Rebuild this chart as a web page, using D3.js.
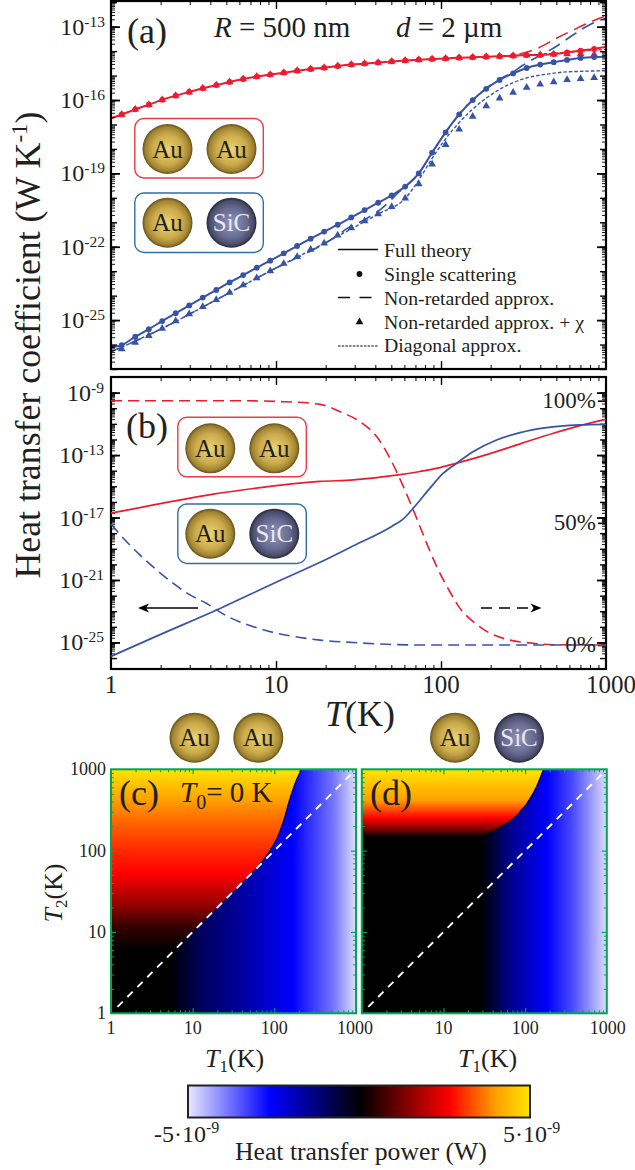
<!DOCTYPE html>
<html>
<head>
<meta charset="utf-8">
<script src="https://cdn.jsdelivr.net/npm/d3@7"></script>
<style>
html, body { margin: 0; padding: 0; background: #fff; }
svg { display: block; }
text { font-family: "Liberation Serif", serif; fill: #231f20; }
</style>
</head>
<body>
<div id="chart"></div>
<script>
// panel (a), all values are log10 of T or of the coefficient
var markerExp = [.065,.147,.229,.310,.392,.474,.556,.638,.719,.801,.883,.965,1.047,1.128,1.210,1.292,1.374,1.456,1.537,1.619,1.701,1.783,1.865,1.946,2.028,2.110,2.192,2.274,2.355,2.437,2.519,2.601,2.683,2.764,2.846,2.928];
var singleRed = [-16.59,-16.38,-16.19,-15.99,-15.82,-15.67,-15.52,-15.39,-15.26,-15.14,-15.04,-14.96,-14.88,-14.80,-14.73,-14.68,-14.61,-14.55,-14.51,-14.47,-14.42,-14.38,-14.35,-14.32,-14.30,-14.27,-14.25,-14.23,-14.21,-14.19,-14.16,-14.16,-14.12,-14.05,-13.98,-13.91];
var singleBlue = [-26.02,-25.68,-25.37,-25.04,-24.72,-24.40,-24.08,-23.77,-23.46,-23.16,-22.86,-22.57,-22.27,-21.97,-21.67,-21.38,-21.10,-20.80,-20.50,-20.20,-19.90,-19.54,-19.00,-18.15,-17.32,-16.59,-16.00,-15.54,-15.18,-14.91,-14.69,-14.55,-14.45,-14.36,-14.28,-14.24];
var triangleBlue = [-26.18,-25.92,-25.64,-25.34,-25.04,-24.75,-24.45,-24.17,-23.87,-23.57,-23.28,-22.99,-22.69,-22.41,-22.11,-21.86,-21.53,-21.23,-20.95,-20.66,-20.36,-20.02,-19.43,-18.63,-17.83,-17.20,-16.67,-16.24,-15.93,-15.69,-15.49,-15.36,-15.26,-15.17,-15.13,-15.09];
var triangleRed = [-16.59,-16.38,-16.19,-15.99,-15.82,-15.67,-15.52,-15.39,-15.26,-15.14,-15.04,-14.96,-14.88,-14.80,-14.73,-14.68,-14.61,-14.55,-14.51,-14.47,-14.42,-14.38,-14.35,-14.32,-14.30,-14.27,-14.25,-14.23,-14.21,-14.19,-14.17,-14.15,-14.13,-14.12,-14.12,-14.14];
var fullEndsRed = [-16.75, -13.82];
var fullEndsBlue = [-26.11, -14.23];
var nonRetRedT = [2.355,2.475,2.59,2.70,2.806,2.907,3];
var nonRetRed = [-14.21,-14.12,-13.87,-13.47,-13.12,-12.80,-12.56];
var nonRetBlueT = [0,.310,.638,.965,1.374,1.432,1.539,1.634,1.747,1.865,1.946,2.028,2.110,2.192,2.274,2.355,2.437,2.489,2.70,2.80,2.907,3];
var nonRetBlue = [-26.30,-25.34,-24.17,-22.99,-21.53,-21.25,-20.88,-20.47,-19.75,-19.00,-18.15,-17.32,-16.59,-16.00,-15.52,-15.15,-14.85,-14.61,-13.80,-13.34,-12.90,-12.66];
var diagRedT = [2.355,2.519,2.683,2.764,2.846,3];
var diagRed = [-14.21,-14.16,-14.09,-14.05,-14.00,-13.93];
var diagBlueT = [0,.310,.638,.965,1.292,1.619,1.783,1.859,1.94,2.022,2.103,2.186,2.267,2.348,2.428,2.511,2.594,2.675,2.756,2.836,2.994];
var diagBlue = [-26.30,-25.34,-24.17,-22.99,-21.86,-20.66,-20.02,-19.34,-18.45,-17.64,-16.98,-16.41,-15.96,-15.59,-15.32,-15.11,-14.99,-14.91,-14.85,-14.83,-14.80];

// panel (b)
var bRedT = [0,.176,.378,.62,.863,1.267,1.469,1.741,1.873,1.994,2.095,2.277,2.479,2.681,2.842,3];
var bRed = [-16.72,-16.36,-15.95,-15.50,-15.14,-14.69,-14.59,-14.27,-14.05,-13.80,-13.52,-12.97,-12.28,-11.60,-11.11,-10.71];
var bBlueT = [0,.297,.661,1.004,1.267,1.469,1.701,1.772,1.832,1.933,2.014,2.095,2.196,2.337,2.479,2.64,2.842,3];
var bBlue = [-25.89,-24.50,-22.82,-21.13,-19.87,-18.81,-17.57,-17.08,-16.40,-15.12,-14.16,-13.52,-12.77,-12.03,-11.56,-11.24,-11.07,-11.03];
var pctRedT = [0,.741,1.045,1.267,1.388,1.509,1.61,1.691,1.772,1.832,1.893,1.974,2.054,2.115,2.196,2.297,2.418,2.56,2.68,3];
var pctRed = [100,100,99.6,98.5,95.5,91.4,85.3,76.4,64.8,55.3,45,32.1,21.8,15,9.5,4.8,2,.7,.1,0];
var pctBlueT = [0,.014,.075,.176,.277,.378,.479,.58,.701,.863,1.004,1.145,1.267,1.469,1.671,1.873,3];
var pctBlue = [49.5,48.4,43.7,36.8,30.7,25.2,20.5,17,11.9,7.5,4.8,3.1,2,1,.3,0,0];

// panels (c) and (d): colour position per temperature, and where the sign flips
var cT1Exp = [0,.75,.85,1.1,1.5,2.23,2.72,3];
var cT1Tone = [.505,.505,.47,.41,.356,.24,.12,.01];
var cT2Exp = [0,.76,1.07,1.31,1.72,2,2.34,2.62,3];
var cT2Tone = [.505,.505,.56,.65,.765,.80,.85,.9,1];
var cEdgeT1 = [0,1.7,1.8,1.906,2.03,2.11,2.19,2.27,2.33,3];
var cEdgeT2 = [0,1.7,1.81,1.947,2.15,2.36,2.64,2.87,3,4.5];
var dT1Exp = [0,1.45,1.6,1.78,2.27,2.59,3];
var dT1Tone = [.505,.505,.45,.37,.24,.16,.01];
var dT2Exp = [0,2.17,2.25,2.4,2.62,3];
var dT2Tone = [.505,.505,.62,.765,.9,1];
var dEdgeT1 = [0,1.4,1.53,1.69,1.86,2.02,2.14,2.22,3];
var dEdgeT2 = [2.17,2.17,2.2,2.29,2.4,2.58,2.79,2.99,4.5];
var colorStops = [0,.24,.505,.765,.9,1];
var colorValues = ["#e8e8ff","#0000ff","#000000","#ff0000","#ffa000","#ffe600"];

var legendLabels = ["Full theory","Single scattering","Non-retarded approx.","Non-retarded approx. + χ","Diagonal approx."];

var RED = "#ec1c2e", BLUE = "#3653a8", GREEN = "#00a651";
var pow10 = function(e){ return Math.pow(10, e); };

var svg = d3.select("#chart").append("svg")
	.attr("width", 635)
	.attr("height", 1170);
var defs = svg.append("defs");

function ballGradient(id, stops){
	var g = defs.append("radialGradient").attr("id", id)
		.attr("cx", "50%").attr("cy", "50%").attr("r", "50%")
		.attr("fx", "50%").attr("fy", "52%");
	stops.forEach(function(s){
		g.append("stop").attr("offset", s[0]).attr("stop-color", s[1]);
	});
}
ballGradient("gold", [[0,"#ecd474"],[.6,"#cbab4b"],[.88,"#a08332"],[1,"#64511b"]]);
ballGradient("sic", [[0,"#9094b4"],[.6,"#686c92"],[.88,"#4a4c6a"],[1,"#28283c"]]);

function ball(cx, cy, sic){
	svg.append("circle").attr("cx", cx).attr("cy", cy).attr("r", 25)
		.attr("fill", sic ? "url(#sic)" : "url(#gold)");
	svg.append("text").attr("x", cx).attr("y", cy + 8.5).attr("text-anchor", "middle")
		.style("font-size", "25px")
		.style("fill", sic ? "#e8e9f4" : "#231f20")
		.text(sic ? "SiC" : "Au");
}

function ballBox(x, y, color){
	svg.append("rect").attr("x", x).attr("y", y).attr("width", 128.5).attr("height", 59.5)
		.attr("rx", 9).attr("fill", "none").attr("stroke", color).attr("stroke-width", 1.4);
}

function label(x, y, size, parts, rotate){
	var t = svg.append("text").style("font-size", size + "px");
	if(rotate){
		t.attr("transform", "translate(" + x + "," + y + ") rotate(-90)").attr("text-anchor", "middle");
	} else {
		t.attr("x", x).attr("y", y);
	}
	parts.forEach(function(p){
		var s = t.append("tspan").text(p.t);
		if(p.i) s.style("font-style", "italic");
		if(p.dy) s.attr("dy", p.dy);
		if(p.s) s.style("font-size", p.s + "px");
	});
	return t;
}

function decadeTicks(lo, hi){
	var out = [];
	d3.range(lo, hi + 1).forEach(function(e){
		d3.range(2, 10).forEach(function(m){
			var v = m * pow10(e);
			if(v <= pow10(hi + 1)) out.push(v);
		});
	});
	return out;
}

function ticks(axis, scale, values, size, x, y, color, width){
	var g = svg.append("g").attr("transform", "translate(" + x + "," + y + ")")
		.call(axis(scale).tickValues(values).tickSize(size).tickFormat(""));
	g.select(".domain").remove();
	g.selectAll("line").attr("stroke", color).attr("stroke-width", width);
	g.selectAll("text").remove();
}

// ---- shared x scale of (a) and (b)
var x = d3.scaleLog().domain([1, 1000]).range([111, 606]);
var yA = d3.scaleLog().domain([pow10(-27), pow10(-11.95)]).range([369, 1]);
var yB = d3.scaleLog().domain([pow10(-26.7), pow10(-8)]).range([669, 377]);
var yPct = d3.scaleLinear().domain([0, 100]).range([645, 400.7]);

function line(yScale, xs, ys, color, width, dash, curve){
	var path = d3.line()
		.x(function(d){ return x(pow10(d[0])); })
		.y(function(d){ return yScale(d[1]); })
		.curve(curve || d3.curveMonotoneX);
	return svg.append("path")
		.datum(xs.map(function(v, i){ return [v, ys[i]]; }))
		.attr("d", path)
		.attr("fill", "none")
		.attr("stroke", color)
		.attr("stroke-width", width)
		.attr("stroke-dasharray", dash || null);
}
function yLog(scale){ return function(e){ return scale(pow10(e)); }; }
var yAe = yLog(yA), yBe = yLog(yB);

// ---- panel (a)
var fullT = [0].concat(markerExp, [3]);
line(yAe, diagRedT, diagRed, RED, 1.4, "3.5,2");
line(yAe, nonRetRedT, nonRetRed, RED, 1.6, "13,7");
line(yAe, fullT, [fullEndsRed[0]].concat(singleRed, [fullEndsRed[1]]), RED, 2);
line(yAe, diagBlueT, diagBlue, BLUE, 1.4, "3.5,2");
line(yAe, nonRetBlueT, nonRetBlue, BLUE, 1.6, "13,7");
line(yAe, fullT, [fullEndsBlue[0]].concat(singleBlue, [fullEndsBlue[1]]), BLUE, 2);

var triangle = d3.symbol().type(d3.symbolTriangle).size(26);
function triangles(vals, color){
	svg.append("g").selectAll("path").data(vals).enter().append("path")
		.attr("d", triangle)
		.attr("fill", color)
		.attr("transform", function(d, i){
			return "translate(" + x(pow10(markerExp[i])) + "," + yAe(d) + ")";
		});
}
function dots(vals, color){
	svg.append("g").selectAll("circle").data(vals).enter().append("circle")
		.attr("cx", function(d, i){ return x(pow10(markerExp[i])); })
		.attr("cy", function(d){ return yAe(d); })
		.attr("r", 2.9)
		.attr("fill", color);
}
triangles(triangleRed, RED);
triangles(triangleBlue, BLUE);
dots(singleRed, RED);
dots(singleBlue, BLUE);

function frameXY(y0, y1){
	svg.append("rect").attr("x", 111).attr("y", y0).attr("width", 495).attr("height", y1 - y0)
		.attr("fill", "none").attr("stroke", "#000").attr("stroke-width", 2.2);
	var majors = [10, 100];
	var minors = decadeTicks(0, 2);
	ticks(d3.axisBottom, x, majors, -8, 0, y1, "#000", 1.4);
	ticks(d3.axisBottom, x, minors, -4, 0, y1, "#000", 1);
	ticks(d3.axisTop, x, majors, -8, 0, y0, "#000", 1.4);
	ticks(d3.axisTop, x, minors, -4, 0, y0, "#000", 1);
}
frameXY(1, 369);
frameXY(377, 669);

function logYTicks(scale, lo, hi, bigEvery, bigRef){
	var decades = d3.range(lo, hi + 1);
	var big = decades.filter(function(e){ return (e - bigRef) % bigEvery === 0; }).map(pow10);
	var mid = decades.map(pow10);
	var minor = decadeTicks(lo, hi - 1);
	[[d3.axisLeft, 111], [d3.axisRight, 606]].forEach(function(a){
		ticks(a[0], scale, big, -9, a[1], 0, "#000", 1.8);
		ticks(a[0], scale, mid, -6, a[1], 0, "#000", 1.4);
		ticks(a[0], scale, minor, -4, a[1], 0, "#000", .9);
	});
}
logYTicks(yA, -27, -12, 3, -13);

[-13,-16,-19,-22,-25].forEach(function(e){
	var t = label(105, yAe(e) + 8, 24, [{t: "10"}, {t: String(e), dy: -8, s: 15.5}]);
	t.attr("text-anchor", "end");
});

label(127, 43, 36, [{t: "(a)"}]);
label(214, 37, 29, [{t: "R", i: true}, {t: " = 500 nm"}]);
label(396, 37, 29, [{t: "d", i: true}, {t: " = 2 µm"}]);

ballBox(134.8, 118.5, "#ee3b45");
ball(167.5, 149, false);
ball(231.5, 149, false);
ballBox(134.8, 193, "#2f6fa3");
ball(167.5, 222.7, false);
ball(231.5, 222.7, true);

// legend
var legendY = [256.5, 280.5, 305, 328.5, 352];
legendLabels.forEach(function(s, i){
	svg.append("text").attr("x", 384).attr("y", legendY[i]).style("font-size", "19.8px").text(s);
});
function legendLine(yy, dash, width){
	svg.append("line").attr("x1", 338).attr("x2", 378).attr("y1", yy).attr("y2", yy)
		.attr("stroke", "#111").attr("stroke-width", width).attr("stroke-dasharray", dash);
}
legendLine(249.5, null, 1.4);
legendLine(297.5, "12,9.5", 1.4);
legendLine(346, "2.5,1.2", 1.2);
svg.append("circle").attr("cx", 359.5).attr("cy", 274).attr("r", 2.9).attr("fill", "#111");
svg.append("path").attr("d", triangle).attr("fill", "#111").attr("transform", "translate(359.5,322)");

// ---- panel (b)
logYTicks(yB, -26, -9, 4, -9);
ticks(d3.axisRight, yPct, [0, 50, 100], -8, 606, 0, "#000", 1.6);
ticks(d3.axisRight, yPct, [25, 75], -4, 606, 0, "#000", 1.6);

line(yBe, bRedT, bRed, RED, 1.7);
line(yBe, bBlueT, bBlue, BLUE, 1.7);
line(yPct, pctRedT, pctRed, RED, 1.6, "11,6");
line(yPct, pctBlueT, pctBlue, BLUE, 1.6, "11,6");

[-9,-13,-17,-21,-25].forEach(function(e){
	var t = label(104, yBe(e) + 8, 24, [{t: "10"}, {t: String(e), dy: -8, s: 15.5}]);
	t.attr("text-anchor", "end");
});
[[100,"100%"],[50,"50%"],[0,"0%"]].forEach(function(p){
	svg.append("text").attr("x", 596).attr("y", yPct(p[0]) + 7).attr("text-anchor", "end")
		.style("font-size", "23px").text(p[1]);
});
label(126, 438, 36, [{t: "(b)"}]);
ballBox(177.8, 417.3, "#ee3b45");
ball(210.3, 448.3, false);
ball(274.3, 448.3, false);
ballBox(177.8, 504, "#2f6fa3");
ball(210.3, 533.7, false);
ball(274.3, 533.7, true);

// arrows
function arrow(x0, x1, dash){
	var dir = x1 > x0 ? 1 : -1;
	svg.append("line").attr("x1", x0).attr("x2", x1 - dir * 6).attr("y1", 608).attr("y2", 608)
		.attr("stroke", "#000").attr("stroke-width", 1.6).attr("stroke-dasharray", dash);
	svg.append("path")
		.attr("d", "M" + x1 + ",608L" + (x1 - dir * 11) + ",603.5L" + (x1 - dir * 8) + ",608L" + (x1 - dir * 11) + ",612.5Z")
		.attr("fill", "#000");
}
arrow(198, 138, null);
arrow(481, 541.5, "11,7");

[[1,"1"],[10,"10"],[100,"100"],[1000,"1000"]].forEach(function(p){
	svg.append("text").attr("x", x(p[0]) + (p[0] === 1000 ? 5 : 0)).attr("y", 692.5)
		.attr("text-anchor", "middle").style("font-size", "25px").text(p[1]);
});
label(325, 726, 36, [{t: "T", i: true}, {t: "(K)"}]);
label(40, 345, 35.8, [{t: "Heat transfer coefficient (W K"}, {t: "-1", dy: -13, s: 23}, {t: ")", dy: 13}], true);

// balls above the maps
ball(194.5, 737.7, false);
ball(258.3, 737.7, false);
ball(455, 737.7, false);
ball(519, 737.7, true);

// ---- heat maps
var colorScale = d3.scaleLinear().domain(colorStops).range(colorValues).clamp(true);

function heatMap(x0, x1, t1Exp, t1Tone, t2Exp, t2Tone, edgeT1, edgeT2, edgeFrom){
	var y0 = 1013.3, y1 = 769.3;
	var mx = d3.scaleLog().domain([1, 1000]).range([x0, x1]);
	var my = d3.scaleLog().domain([1, 1000]).range([y0, y1]);
	var tone1 = d3.scaleLinear().domain(t1Exp).range(t1Tone);
	var tone2 = d3.scaleLinear().domain(t2Exp).range(t2Tone);
	var edge = d3.scaleLinear().domain(edgeT1).range(edgeT2);
	var w = Math.round(x1 - x0), h = Math.round(y0 - y1);
	var canvas = document.createElement("canvas");
	canvas.width = w; canvas.height = h;
	var ctx = canvas.getContext("2d");
	for(var i = 0; i < w; i++){
		var e1 = Math.log10(mx.invert(x0 + i + .5));
		var limit = edge(e1);
		for(var j = 0; j < h; j++){
			var e2 = Math.log10(my.invert(y1 + j + .5));
			ctx.fillStyle = colorScale(e2 > limit ? tone2(e2) : tone1(e1));
			ctx.fillRect(i, j, 1, 1);
		}
	}
	svg.append("image").attr("x", x0).attr("y", y1).attr("width", x1 - x0).attr("height", y0 - y1)
		.attr("preserveAspectRatio", "none")
		.attr("href", canvas.toDataURL());

	// thin black rim where the sign flips
	var rim = edgeT1.map(function(v, i){ return [v, edgeT2[i]]; }).filter(function(d){ return d[0] >= edgeFrom && d[1] <= 3; });
	svg.append("path").datum(rim)
		.attr("d", d3.line()
			.x(function(d){ return mx(pow10(d[0])); })
			.y(function(d){ return my(pow10(d[1])); })
			.curve(d3.curveMonotoneX))
		.attr("fill", "none").attr("stroke", "#000").attr("stroke-width", 1);

	// T1 = T2
	svg.append("line")
		.attr("x1", mx(1.2)).attr("y1", my(1.2)).attr("x2", mx(860)).attr("y2", my(860))
		.attr("stroke", "#fff").attr("stroke-width", 1.9).attr("stroke-dasharray", "7.5,6.5");

	svg.append("rect").attr("x", x0).attr("y", y1).attr("width", x1 - x0).attr("height", y0 - y1)
		.attr("fill", "none").attr("stroke", GREEN).attr("stroke-width", 2);
	var minors = decadeTicks(0, 2);
	ticks(d3.axisBottom, mx, [10, 100], -5, 0, y0, GREEN, 1.2);
	ticks(d3.axisBottom, mx, minors, -3, 0, y0, GREEN, 1);
	ticks(d3.axisTop, mx, [10, 100], -5, 0, y1, GREEN, 1.2);
	ticks(d3.axisTop, mx, minors, -3, 0, y1, GREEN, 1);
	ticks(d3.axisLeft, my, [10, 100], -5, x0, 0, GREEN, 1.2);
	ticks(d3.axisLeft, my, minors, -3, x0, 0, GREEN, 1);
	ticks(d3.axisRight, my, [10, 100], -5, x1, 0, GREEN, 1.2);
	ticks(d3.axisRight, my, minors, -3, x1, 0, GREEN, 1);
	return {x: mx, y: my};
}

var mapC = heatMap(111, 356, cT1Exp, cT1Tone, cT2Exp, cT2Tone, cEdgeT1, cEdgeT2, 1.7);
var mapD = heatMap(361.8, 606.8, dT1Exp, dT1Tone, dT2Exp, dT2Tone, dEdgeT1, dEdgeT2, 1.4);

[[1,"1"],[10,"10"],[100,"100"],[1000,"1000"]].forEach(function(p){
	svg.append("text").attr("x", mapC.x(p[0]) + (p[0] === 1000 ? -1 : 0)).attr("y", 1034)
		.attr("text-anchor", "middle").style("font-size", "18px").text(p[1]);
	svg.append("text").attr("x", 106).attr("y", mapC.y(p[0]) + 6).attr("text-anchor", "end")
		.style("font-size", "18px").text(p[1]);
	if(p[0] > 1){
		svg.append("text").attr("x", mapD.x(p[0]) + (p[0] === 1000 ? 1 : 0)).attr("y", 1034)
			.attr("text-anchor", "middle").style("font-size", "18px").text(p[1]);
	}
});

label(119, 805, 36, [{t: "(c)"}]);
label(180, 802, 29, [{t: "T", i: true}, {t: "0", dy: 7, s: 20}, {t: "= 0 K", dy: -7}]);
label(370, 805, 36, [{t: "(d)"}]);
label(62, 893, 26, [{t: "T", i: true}, {t: "2", dy: 5, s: 17}, {t: "(K)", dy: -5}], true);
label(205, 1067, 26, [{t: "T", i: true}, {t: "1", dy: 5, s: 17}, {t: "(K)", dy: -5}]);
label(458, 1067, 26, [{t: "T", i: true}, {t: "1", dy: 5, s: 17}, {t: "(K)", dy: -5}]);

// ---- colour bar
var bar = defs.append("linearGradient").attr("id", "bar");
colorStops.forEach(function(s, i){
	bar.append("stop").attr("offset", s).attr("stop-color", colorValues[i]);
});
svg.append("rect").attr("x", 188).attr("y", 1085.5).attr("width", 342).attr("height", 32)
	.attr("fill", "url(#bar)").attr("stroke", "#222").attr("stroke-width", 2);
label(154, 1142, 24, [{t: "-5·10"}, {t: "-9", dy: -9, s: 16}]);
label(503, 1142, 24, [{t: "5·10"}, {t: "-9", dy: -9, s: 16}]);
label(235, 1160, 25.7, [{t: "Heat transfer power (W)"}]);
</script>
</body>
</html>
